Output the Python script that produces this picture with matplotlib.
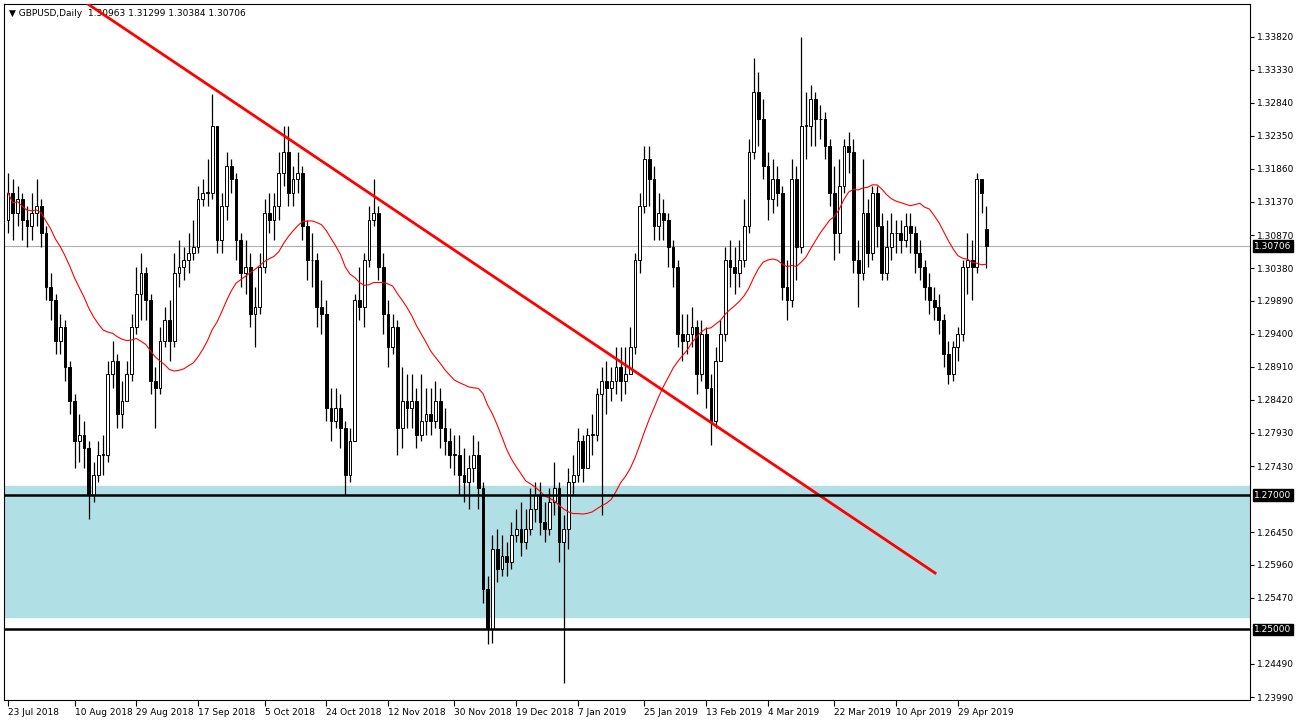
import numpy as np
import pandas as pd
import matplotlib.pyplot as plt
from matplotlib.patches import Rectangle

# daily closes, grouped by week (Mon-Fri), 23 Jul 2018 .. 7 May 2019
closes = [
    1.3150, 1.3120, 1.3140, 1.3110, 1.3100,
    1.3120, 1.3130, 1.3090, 1.3010, 1.2990,
    1.2930, 1.2950, 1.2890, 1.2840, 1.2780,
    1.2790, 1.2770, 1.2700, 1.2730, 1.2760,
    1.2760, 1.2880, 1.2900, 1.2820, 1.2840,
    1.2880, 1.2950, 1.3000, 1.3030, 1.2990,
    1.2870, 1.2860, 1.2930, 1.2960, 1.2930,
    1.3030, 1.3040, 1.3050, 1.3060, 1.3070,
    1.3140, 1.3150, 1.3150, 1.3250, 1.3080,
    1.3130, 1.3190, 1.3170, 1.3080, 1.3030,
    1.3040, 1.2970, 1.2980, 1.3040, 1.3120,
    1.3110, 1.3130, 1.3180, 1.3210, 1.3150,
    1.3170, 1.3180, 1.3100, 1.3050, 1.3050,
    1.2980, 1.2970, 1.2830, 1.2810, 1.2830,
    1.2800, 1.2730, 1.2780, 1.2990, 1.2980,
    1.3050, 1.3110, 1.3120, 1.3040, 1.2970,
    1.2920, 1.2950, 1.2800, 1.2840, 1.2830,
    1.2840, 1.2790, 1.2810, 1.2820, 1.2810,
    1.2840, 1.2800, 1.2780, 1.2760, 1.2760,
    1.2730, 1.2720, 1.2740, 1.2760, 1.2710,
    1.2560, 1.2500, 1.2620, 1.2590, 1.2610,
    1.2600, 1.2640, 1.2650, 1.2630, 1.2650,
    1.2680, 1.2700, 1.2660, 1.2650, 1.2690,
    1.2710, 1.2630, 1.2650, 1.2720, 1.2730,
    1.2780, 1.2740, 1.2790, 1.2790, 1.2850,
    1.2870, 1.2860, 1.2870, 1.2890, 1.2870,
    1.2880, 1.2920, 1.3050, 1.3130, 1.3200,
    1.3170, 1.3100, 1.3120, 1.3110, 1.3070,
    1.3040, 1.2940, 1.2930, 1.2940, 1.2950,
    1.2880, 1.2940, 1.2860, 1.2810, 1.2900,
    1.2940, 1.3050, 1.3040, 1.3030, 1.3050,
    1.3100, 1.3210, 1.3300, 1.3260, 1.3190,
    1.3140, 1.3170, 1.3150, 1.3010, 1.2990,
    1.3170, 1.3070, 1.3250, 1.3250, 1.3290,
    1.3260, 1.3260, 1.3220, 1.3150, 1.3090,
    1.3160, 1.3220, 1.3210, 1.3050, 1.3030,
    1.3120, 1.3060, 1.3150, 1.3100, 1.3030,
    1.3070, 1.3090, 1.3090, 1.3080, 1.3100,
    1.3090, 1.3060, 1.3040, 1.3010, 1.2990,
    1.2980, 1.2960, 1.2910, 1.2880, 1.2920,
    1.2940, 1.3040, 1.3050, 1.3040, 1.3170,
    1.3150, 1.30706,
]
first_open = 1.3110
last_open = 1.30963

highs = [
    1.3180, 1.3170, 1.3160, 1.3150, 1.3130,
    1.3150, 1.3170, 1.3140, 1.3100, 1.3030,
    1.3000, 1.2970, 1.2960, 1.2900, 1.2850,
    1.2820, 1.2810, 1.2780, 1.2750, 1.2780,
    1.2790, 1.2900, 1.2930, 1.2910, 1.2870,
    1.2900, 1.2970, 1.3040, 1.3060, 1.3040,
    1.3000, 1.2890, 1.2950, 1.2980, 1.2990,
    1.3060, 1.3080, 1.3070, 1.3090, 1.3110,
    1.3160, 1.3170, 1.3200, 1.3297, 1.3250,
    1.3150, 1.3210, 1.3200, 1.3180, 1.3090,
    1.3080, 1.3060, 1.3010, 1.3060, 1.3140,
    1.3150, 1.3150, 1.3210, 1.3250, 1.3250,
    1.3190, 1.3210, 1.3190, 1.3110, 1.3090,
    1.3060, 1.3020, 1.2990, 1.2860, 1.2860,
    1.2850, 1.2810, 1.2800, 1.3000, 1.3040,
    1.3060, 1.3130, 1.3170, 1.3130, 1.3060,
    1.2990, 1.2970, 1.2960, 1.2890, 1.2880,
    1.2880, 1.2860, 1.2880, 1.2860, 1.2860,
    1.2870, 1.2860, 1.2830, 1.2800, 1.2790,
    1.2790, 1.2770, 1.2760, 1.2790, 1.2780,
    1.2720, 1.2580, 1.2640, 1.2650, 1.2640,
    1.2630, 1.2660, 1.2680, 1.2690, 1.2680,
    1.2710, 1.2720, 1.2720, 1.2690, 1.2710,
    1.2750, 1.2720, 1.2670, 1.2740, 1.2760,
    1.2800, 1.2790, 1.2800, 1.2820, 1.2860,
    1.2890, 1.2900, 1.2890, 1.2920, 1.2920,
    1.2920, 1.2950, 1.3060, 1.3150, 1.3220,
    1.3220, 1.3190, 1.3150, 1.3140, 1.3120,
    1.3080, 1.3050, 1.2970, 1.2970, 1.2980,
    1.2960, 1.2960, 1.2950, 1.2880, 1.2920,
    1.2960, 1.3070, 1.3080, 1.3070, 1.3080,
    1.3140, 1.3230, 1.3350, 1.3330, 1.3290,
    1.3210, 1.3200, 1.3190, 1.3160, 1.3050,
    1.3200, 1.3190, 1.3382, 1.3300, 1.3310,
    1.3300, 1.3280, 1.3270, 1.3230, 1.3190,
    1.3200, 1.3230, 1.3240, 1.3230, 1.3080,
    1.3200, 1.3140, 1.3160, 1.3160, 1.3120,
    1.3110, 1.3120, 1.3110, 1.3110, 1.3120,
    1.3120, 1.3100, 1.3080, 1.3050, 1.3030,
    1.3010, 1.3000, 1.2970, 1.2930, 1.2930,
    1.2950, 1.3050, 1.3090, 1.3080, 1.3180,
    1.3170, 1.31299,
]
lows = [
    1.3090, 1.3080, 1.3100, 1.3080, 1.3070,
    1.3080, 1.3100, 1.3070, 1.2990, 1.2960,
    1.2910, 1.2910, 1.2870, 1.2820, 1.2740,
    1.2750, 1.2740, 1.2665, 1.2690, 1.2720,
    1.2730, 1.2750, 1.2860, 1.2800, 1.2800,
    1.2840, 1.2870, 1.2940, 1.2960, 1.2960,
    1.2850, 1.2800, 1.2850, 1.2920, 1.2900,
    1.2920, 1.3010, 1.3020, 1.3030, 1.3050,
    1.3060, 1.3130, 1.3130, 1.3140, 1.3060,
    1.3060, 1.3110, 1.3150, 1.3050, 1.3010,
    1.3000, 1.2950, 1.2920, 1.2970, 1.3030,
    1.3090, 1.3080, 1.3110, 1.3160, 1.3130,
    1.3130, 1.3150, 1.3080, 1.3020, 1.3010,
    1.2950, 1.2940, 1.2810, 1.2780, 1.2800,
    1.2770, 1.2700, 1.2720, 1.2780, 1.2960,
    1.2950, 1.3040, 1.3100, 1.3020, 1.2940,
    1.2890, 1.2910, 1.2760, 1.2770, 1.2800,
    1.2800, 1.2770, 1.2780, 1.2790, 1.2790,
    1.2800, 1.2770, 1.2760, 1.2740, 1.2730,
    1.2700, 1.2690, 1.2680, 1.2720, 1.2680,
    1.2540, 1.2478, 1.2480, 1.2570, 1.2580,
    1.2580, 1.2590, 1.2630, 1.2610, 1.2620,
    1.2640, 1.2660, 1.2640, 1.2630, 1.2640,
    1.2670, 1.2600, 1.2420, 1.2620, 1.2700,
    1.2720, 1.2720, 1.2740, 1.2760, 1.2780,
    1.2670, 1.2820, 1.2840, 1.2850, 1.2840,
    1.2850, 1.2880, 1.2910, 1.3030, 1.3120,
    1.3130, 1.3080, 1.3080, 1.3080, 1.3040,
    1.3010, 1.2920, 1.2900, 1.2910, 1.2920,
    1.2850, 1.2870, 1.2830, 1.2775, 1.2800,
    1.2900, 1.2930, 1.3010, 1.3000, 1.3010,
    1.3040, 1.3090, 1.3200, 1.3220, 1.3170,
    1.3110, 1.3120, 1.3130, 1.2990, 1.2960,
    1.2980, 1.3020, 1.3060, 1.3200, 1.3220,
    1.3220, 1.3230, 1.3200, 1.3130, 1.3050,
    1.3060, 1.3150, 1.3180, 1.3030, 1.2980,
    1.3020, 1.3040, 1.3050, 1.3070, 1.3020,
    1.3020, 1.3050, 1.3060, 1.3060, 1.3070,
    1.3060, 1.3030, 1.3020, 1.2990, 1.2970,
    1.2960, 1.2940, 1.2890, 1.2865, 1.2870,
    1.2900, 1.2930, 1.3000, 1.2990, 1.3030,
    1.3120, 1.30384,
]

dates = pd.bdate_range("2018-07-23", "2019-05-07")
tick_dates = ["2018-07-23", "2018-08-10", "2018-08-29", "2018-09-17", "2018-10-05",
              "2018-10-24", "2018-11-12", "2018-11-30", "2018-12-19", "2019-01-07",
              "2019-01-25", "2019-02-13", "2019-03-04", "2019-03-22", "2019-04-10",
              "2019-04-29"]
price_ticks = [1.33820, 1.33330, 1.32840, 1.32350, 1.31860, 1.31370, 1.30870, 1.30380,
               1.29890, 1.29400, 1.28910, 1.28420, 1.27930, 1.27430, 1.26450, 1.25960,
               1.25470, 1.24490, 1.23990]
zone_top, zone_bottom = 1.2713, 1.2518
levels = [1.2700, 1.2500]
last_price = 1.30706
trend = ([16.8, 195.2], [1.3431, 1.2584])

opens = [first_open] + closes[:-1]
opens[-1] = last_open
n = len(closes)
idx = np.arange(n)
ma = pd.Series(closes).rolling(28, min_periods=1).mean()

fig = plt.figure(figsize=(12.99, 7.22), dpi=100)
ax = fig.add_axes([4 / 1299, 22 / 722, 1246 / 1299, 696 / 722])
ax.set_xlim(-0.85, 261.5)
ax.set_ylim(1.2395, 1.3431)

ax.axhspan(zone_bottom, zone_top, color="#b0dfe5", zorder=0)
ax.axhline(last_price, color="#b0b0b0", lw=0.8, zorder=1)

w = 0.6
for i in idx:
    o, c, h, l = opens[i], closes[i], highs[i], lows[i]
    ax.vlines(i, l, h, color="black", lw=0.9, zorder=2)
    bot, top = min(o, c), max(o, c)
    face = "white" if c >= o else "black"
    ax.add_patch(Rectangle((i - w / 2, bot), w, max(top - bot, 0.00005),
                           facecolor=face, edgecolor="black", lw=0.7, zorder=3))

ax.plot(idx, ma, color="red", lw=0.8, zorder=4)
ax.plot(trend[0], trend[1], color="red", lw=2, zorder=5)
for lv in levels:
    ax.axhline(lv, color="black", lw=1.8, zorder=5)

pos = [dates.get_loc(pd.Timestamp(d)) for d in tick_dates]
ax.set_xticks(pos)
ax.set_xticklabels([pd.Timestamp(d).strftime("%-d %b %Y") for d in tick_dates],
                   ha="left", fontsize=6.5)
ax.tick_params(axis="x", length=4, pad=2)
ax.yaxis.tick_right()
ax.set_yticks(price_ticks)
ax.set_yticklabels([f"{p:.5f}" for p in price_ticks], fontsize=6.5)
ax.tick_params(axis="y", length=3, pad=2)

for p in levels + [last_price]:
    ax.annotate(f"{p:.5f}", xy=(1.0, p), xycoords=("axes fraction", "data"),
                xytext=(3, 0), textcoords="offset points", va="center", ha="left",
                fontsize=6.5, color="white",
                bbox=dict(boxstyle="square,pad=0.15", fc="black", ec="black"),
                zorder=10, annotation_clip=False)

ax.text(0.004, 0.993, "▼ GBPUSD,Daily  1.30963 1.31299 1.30384 1.30706",
        transform=ax.transAxes, fontsize=6.5, va="top", ha="left")

fig.savefig("out.png", dpi=100, facecolor="white")
